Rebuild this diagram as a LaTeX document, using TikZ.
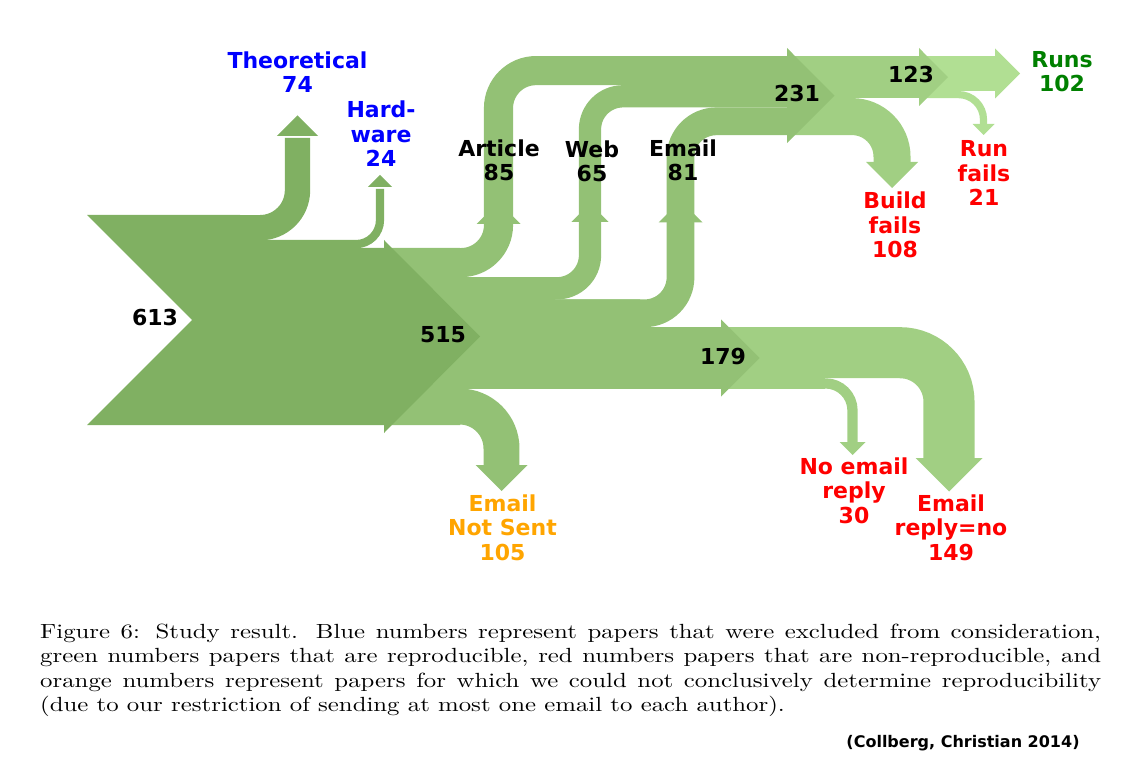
\documentclass[tikz,border=0pt]{standalone}
\usepackage{fontspec}
\usepackage{graphicx}
\newfontfamily\lblfont{DejaVu Sans}
\definecolor{flowA}{RGB}{128,176,98}
\definecolor{flowB}{RGB}{147,193,117}
\definecolor{flowC}{RGB}{161,207,131}
\definecolor{flowD}{RGB}{177,223,147}
\definecolor{exclblue}{RGB}{0,0,255}
\definecolor{okgreen}{RGB}{0,128,0}
\definecolor{failred}{RGB}{255,0,0}
\definecolor{unkorange}{RGB}{255,165,0}
\tikzset{
  band/.style={line width=#1*0.3426pt},
  lbl/.style={font=\lblfont\bfseries\fontsize{22}{24.5}\selectfont, align=center, anchor=base, inner sep=0pt},
  capt/.style={font=\fontsize{10}{12}\selectfont, anchor=north west, inner sep=0pt},
}
\begin{document}
\begin{tikzpicture}[x=1pt,y=-1pt]
    \useasboundingbox (0,0) rectangle (1141,759);
    % last stage: runs / run fails
    \draw[flowD, band=102] (919,73.5) -- (998,73.5);
    \draw[flowD, band=21, rounded corners=25] (919,94.6) -- (983.5,94.6) -- (983.5,126);
    \fill[flowD] (995,48.5) -- (1020,73.5) -- (995,98.5) -- cycle;
    \fill[flowD] (972.5,124) -- (983.5,135) -- (994.5,124) -- cycle;
    % after 231 and 179
    \fill[flowC] (787,56) rectangle (850,135.1);
    \fill[flowC] (721,327.2) rectangle (825,388.5);
    \draw[flowC, band=123] (787,77.1) -- (922,77.1);
    \draw[flowC, band=108, rounded corners=40] (787,116.6) -- (892,116.6) -- (892,165);
    \draw[flowC, band=149, rounded corners=49] (721,352.7) -- (949,352.7) -- (949,460);
    \draw[flowC, band=30, rounded corners=27] (721,383.4) -- (852.5,383.4) -- (852.5,445);
    \fill[flowC] (919,48) -- (948,77.1) -- (919,106) -- cycle;
    \foreach \x/\y/\h in {892/162/26, 949/458/33.5, 852.5/442/13}
      \fill[flowC] ({\x-\h},\y) -- (\x,{\y+\h}) -- ({\x+\h},\y) -- cycle;
    % 515 split
    \fill[flowB] (384,248) -- (460,248) -- (460,277.1) -- (555,277.1) -- (555,299.4) -- (640,299.4)
      -- (640,327.2) -- (721,327.2) -- (721,388.5) -- (460,388.5) -- (460,425) -- (384,425) -- cycle;
    \draw[flowB, band=85, rounded corners=37.5] (384,262.6) -- (498.5,262.6) -- (498.5,70.6) -- (790,70.6);
    \draw[flowB, band=65, rounded corners=33] (384,288.3) -- (590,288.3) -- (590,96.3) -- (790,96.3);
    \draw[flowB, band=81, rounded corners=36] (384,313.3) -- (680.5,313.3) -- (680.5,121.3) -- (790,121.3);
    \draw[flowB, band=179] (384,357.9) -- (725,357.9);
    \draw[flowB, band=105, rounded corners=42] (384,406.5) -- (501.5,406.5) -- (501.5,466);
    \foreach \x/\y/\h in {498.5/224/22, 590/222/18.6, 680.5/222.5/22}
      \fill[flowB] ({\x-\h},\y) -- (\x,{\y-\h}) -- ({\x+\h},\y) -- cycle;
    \fill[flowB] (787,48) -- (834.5,95.6) -- (787,143.2) -- cycle;
    \fill[flowB] (721,319.3) -- (759.7,358) -- (721,396.7) -- cycle;
    \fill[flowB] (475.5,465) -- (501.5,491) -- (527.5,465) -- cycle;
    % input 613
    \draw[flowA, band=74, rounded corners=37.5] (150,227.7) -- (297.5,227.7) -- (297.5,138);
    \draw[flowA, band=24, rounded corners=24] (150,244.1) -- (380,244.1) -- (380,189);
    \fill[flowA] (87,215) -- (192,320) -- (87,425) -- (384,425) -- (384,433) -- (480,336.5)
      -- (384,240) -- (384,248) -- (240,248) -- (240,215) -- cycle;
    \foreach \x/\y/\h in {297.5/136/20.7, 380/187/12.1}
      \fill[flowA] ({\x-\h},\y) -- (\x,{\y-\h}) -- ({\x+\h},\y) -- cycle;
    % labels (anchor = baseline of last line)
    \foreach \n/\p/\t/\c in {n613/{(155,326)}/613/black, n515/{(443,343)}/515/black,
        theo/{(297.5,93)}/{Theoretical\\74}/exclblue, hard/{(381,167)}/{Hard-\\ware\\24}/exclblue,
        art/{(499,181)}/{Article\\85}/black, web/{(592,182)}/{Web\\65}/black,
        mail/{(683,181)}/{Email\\81}/black, n231/{(797,102)}/231/black,
        n123/{(911,83)}/123/black, runs/{(1062,92)}/{Runs\\102}/okgreen,
        runfail/{(984,206)}/{Run\\fails\\21}/failred, buildfail/{(895,258)}/{Build\\fails\\108}/failred,
        n179/{(723,365)}/179/black, notsent/{(502.5,560)}/{Email\\Not Sent\\105}/unkorange,
        noreply/{(854,523)}/{No email\\reply\\30}/failred, replyno/{(951,560)}/{Email\\reply=no\\149}/failred}
      \node[lbl, text=\c] (\n) at \p {\t};
    \node[capt] (cap) at (40,623.5) {\scalebox{2.48}[2.05]{\parbox{427.8pt}{Figure 6: Study result. Blue numbers represent papers that were excluded from consideration,\linebreak
      green numbers papers that are reproducible, red numbers papers that are non-reproducible, and\linebreak
      orange numbers represent papers for which we could not conclusively determine reproducibility\linebreak
      (due to our restriction of sending at most one email to each author).}}};
    \node[font=\lblfont\bfseries\fontsize{16}{19}\selectfont, anchor=base, inner sep=0pt] (src) at (963,747) {(Collberg, Christian 2014)};
\end{tikzpicture}
\end{document}
